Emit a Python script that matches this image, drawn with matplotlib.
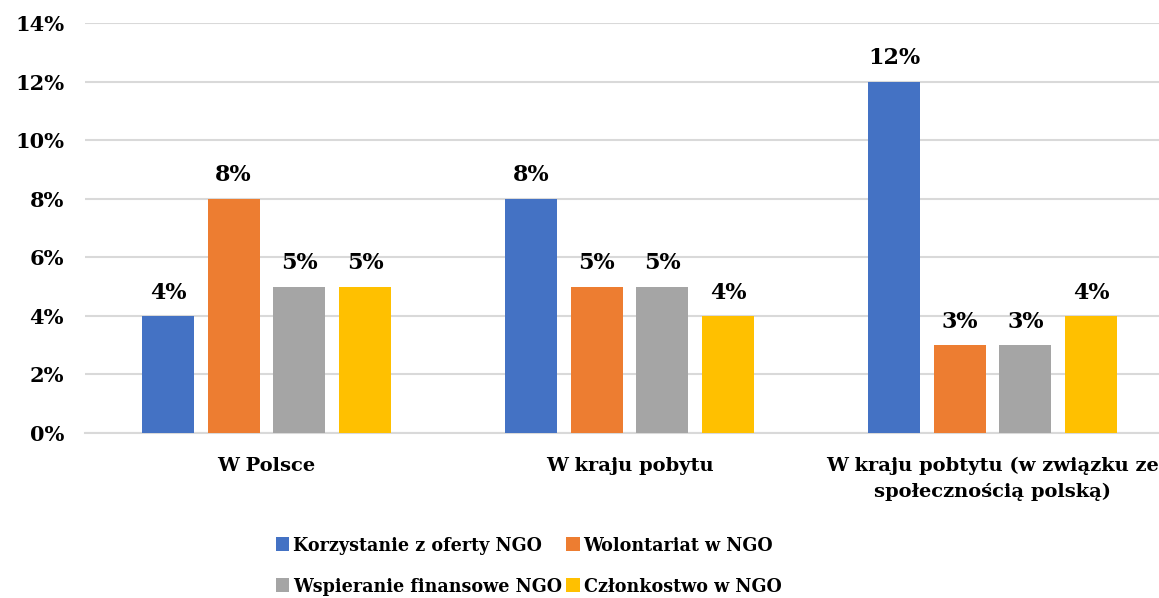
import numpy as np
import matplotlib
matplotlib.use("Agg")
import matplotlib.pyplot as plt
from matplotlib.ticker import FuncFormatter

plt.rcParams['font.family'] = ['DejaVu Serif']
plt.rcParams['font.weight'] = 'bold'

categories = ["W Polsce", "W kraju pobytu",
              "W kraju pobtytu (w związku ze\nspołecznością polską)"]
series_names = ["Korzystanie z oferty NGO", "Wolontariat w NGO",
                "Wspieranie finansowe NGO", "Członkostwo w NGO"]
korzystanie = [4, 8, 12]
wolontariat = [8, 5, 3]
wspieranie = [5, 5, 3]
czlonkostwo = [5, 4, 4]
colors = ["#4472C4", "#ED7D31", "#A5A5A5", "#FFC000"]

values = [korzystanie, wolontariat, wspieranie, czlonkostwo]

fig = plt.figure(figsize=(11.59, 5.98), dpi=100)
ax = fig.add_axes([0.0733, 0.2759, 0.9396, 0.6856])

x = np.arange(len(categories))
step = 0.181
width = 0.143
handles = []
for i, (vals, name, col) in enumerate(zip(values, series_names, colors)):
    pos = x + (i - 1.5) * step
    b = ax.bar(pos, vals, width, color=col, label=name, zorder=3)
    handles.append(b)
    for p, v in zip(pos, vals):
        ax.text(p, v + 0.42, f"{v}%", ha='center', va='bottom',
                fontsize=16, fontweight='bold')

ax.set_xlim(-0.5, 2.5)
ax.set_ylim(0, 14)
ax.set_yticks(range(0, 15, 2))
ax.yaxis.set_major_formatter(FuncFormatter(lambda v, _: f"{int(v)}%"))
ax.grid(axis='y', color='#D9D9D9', linewidth=1.5, zorder=0)
ax.set_xticks(x)
ax.set_xticklabels(categories, fontsize=14, fontweight='bold', linespacing=1.55)
for lab in ax.get_yticklabels():
    lab.set_fontsize(15)
    lab.set_fontweight('bold')
ax.tick_params(axis='y', length=0, pad=15)
ax.tick_params(axis='x', length=0, pad=17)
for s in ['top', 'right', 'left']:
    ax.spines[s].set_visible(False)
ax.spines['bottom'].set_color('#D9D9D9')
ax.spines['bottom'].set_linewidth(1.5)

# legend fills column-wise, reorder so rows read like the original
order = [0, 2, 1, 3]
fig.legend(handles=[handles[k] for k in order],
           labels=[series_names[k] for k in order], ncol=2,
           loc='center', bbox_to_anchor=(0.456, 0.053), frameon=False,
           prop={'family': 'DejaVu Serif', 'stretch': 'condensed',
                 'size': 14, 'weight': 'bold'},
           handlelength=0.7, handleheight=0.7, handletextpad=0.2,
           columnspacing=0.2, labelspacing=1.2)

fig.savefig("out.png", dpi=100)
